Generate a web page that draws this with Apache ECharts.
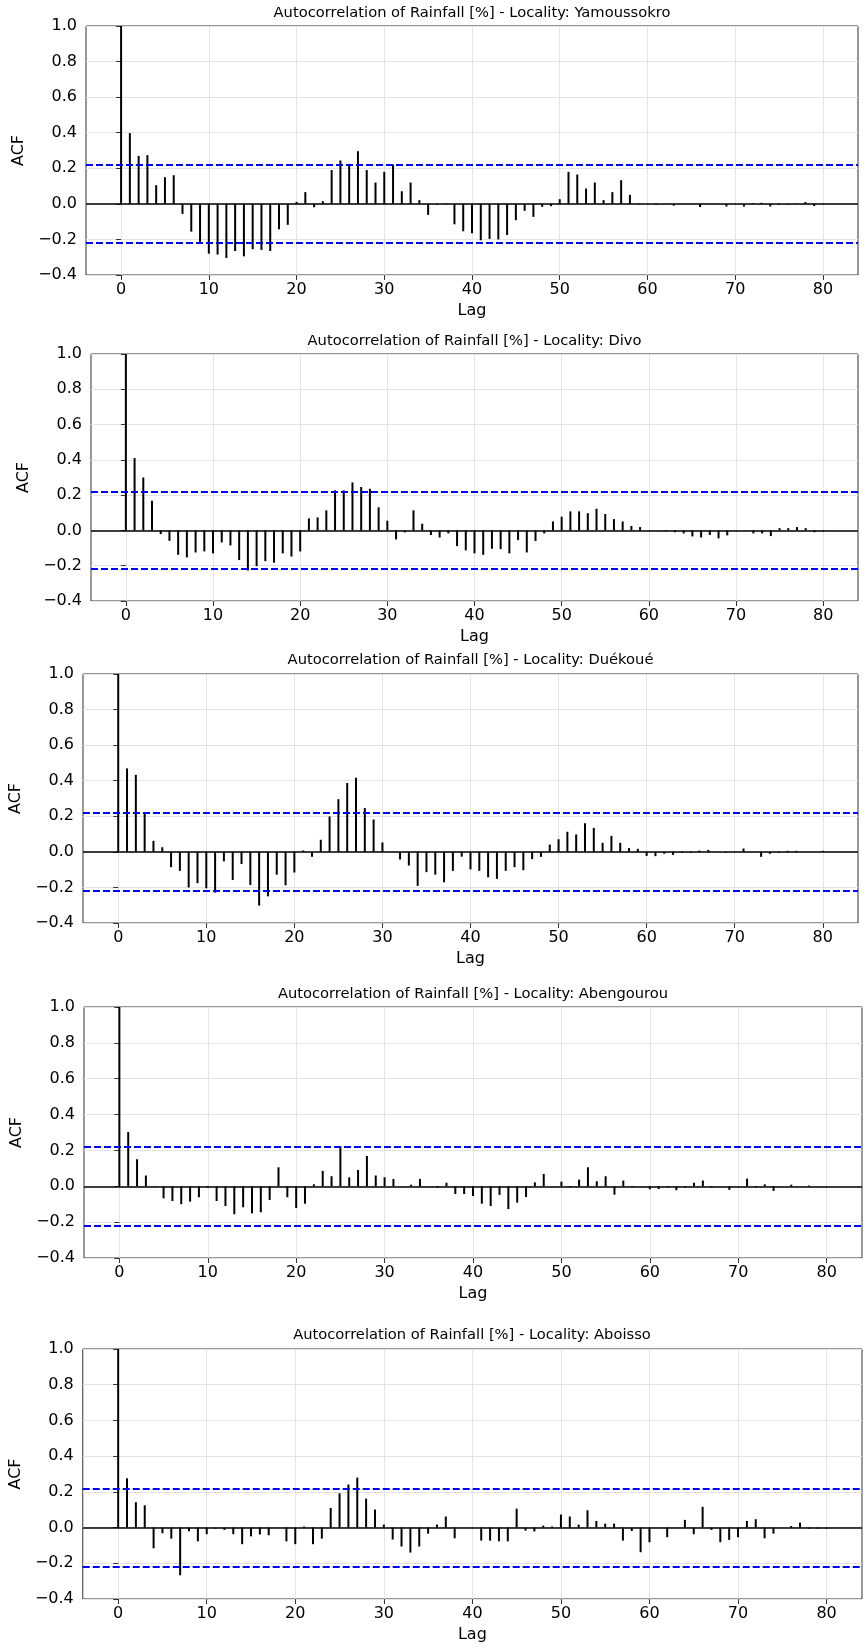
<!DOCTYPE html>
<html>
<head>
<meta charset="utf-8">
<script src="https://cdn.jsdelivr.net/npm/echarts@6/dist/echarts.min.js"></script>
<style>
html, body { margin: 0; padding: 0; background: #fff; }
#main { width: 863px; height: 1650px; }
</style>
</head>
<body>
<div id="main"></div>
<script>
// lags 0..80 and the tick values shown on the axes
var lags = [0,1,2,3,4,5,6,7,8,9,10,11,12,13,14,15,16,17,18,19,20,21,22,23,24,25,26,27,28,29,30,
    31,32,33,34,35,36,37,38,39,40,41,42,43,44,45,46,47,48,49,50,51,52,53,54,55,56,57,58,59,60,
    61,62,63,64,65,66,67,68,69,70,71,72,73,74,75,76,77,78,79,80];
var lagTicks = [0, 10, 20, 30, 40, 50, 60, 70, 80];
var confBand = 0.219;

var localities = ['Yamoussokro', 'Divo', 'Duékoué', 'Abengourou', 'Aboisso'];

var acfYamoussokro = [1.0,0.398,0.27,0.274,0.105,0.15,0.161,-0.056,-0.156,-0.214,
    -0.28,-0.285,-0.304,-0.265,-0.295,-0.255,-0.259,-0.265,-0.143,-0.118,
    0.011,0.066,-0.019,0.015,0.19,0.244,0.225,0.296,0.19,0.12,
    0.18,0.221,0.071,0.12,0.021,-0.062,-0.004,0.003,-0.115,-0.154,
    -0.165,-0.205,-0.197,-0.2,-0.175,-0.092,-0.039,-0.073,-0.017,-0.013,
    0.026,0.18,0.165,0.086,0.12,0.021,0.066,0.133,0.051,0.002,
    0.001,-0.005,0.002,-0.01,0.002,-0.002,-0.018,0.002,-0.002,-0.015,
    0.002,-0.015,0.004,0.006,-0.015,-0.005,-0.005,0.002,0.01,-0.012,0.001];

var acfDivo = [1.0,0.41,0.30,0.168,-0.021,-0.059,-0.138,-0.153,-0.125,-0.119,
    -0.13,-0.068,-0.085,-0.168,-0.227,-0.202,-0.174,-0.183,-0.13,-0.148,
    -0.119,0.068,0.074,0.114,0.227,0.227,0.272,0.246,0.236,0.131,
    0.055,-0.051,-0.011,0.114,0.038,-0.026,-0.04,-0.017,-0.089,-0.113,
    -0.13,-0.138,-0.104,-0.106,-0.13,-0.055,-0.125,-0.06,-0.017,0.051,
    0.078,0.108,0.108,0.098,0.123,0.093,0.064,0.051,0.025,0.019,
    0.002,0.001,-0.005,-0.01,-0.017,-0.034,-0.04,-0.026,-0.045,-0.028,
    0.001,-0.002,-0.017,-0.017,-0.032,0.013,0.013,0.019,0.013,-0.01,-0.005];

var acfDuekoue = [1.0,0.469,0.433,0.218,0.062,0.026,-0.086,-0.107,-0.2,-0.176,
    -0.205,-0.229,-0.053,-0.158,-0.068,-0.186,-0.302,-0.25,-0.128,-0.188,
    -0.116,0.008,-0.028,0.068,0.199,0.296,0.387,0.417,0.246,0.182,
    0.053,0.001,-0.043,-0.077,-0.191,-0.114,-0.128,-0.171,-0.107,-0.027,
    -0.098,-0.107,-0.143,-0.152,-0.107,-0.086,-0.103,-0.041,-0.028,0.041,
    0.071,0.113,0.098,0.161,0.135,0.051,0.09,0.051,0.021,0.017,
    -0.023,-0.024,-0.011,-0.017,-0.006,-0.005,0.007,0.011,0.001,-0.005,
    0.001,0.019,0.001,-0.028,-0.011,-0.005,0.006,0.006,0.001,0.001,0.006];

var acfAbengourou = [1.0,0.303,0.151,0.06,0.002,-0.067,-0.082,-0.1,-0.086,-0.061,
    -0.007,-0.082,-0.11,-0.156,-0.117,-0.151,-0.145,-0.076,0.106,-0.061,
    -0.121,-0.097,0.011,0.086,0.056,0.222,0.05,0.091,0.169,0.06,
    0.05,0.041,0.001,0.009,0.041,0.001,-0.007,0.02,-0.043,-0.043,
    -0.054,-0.097,-0.11,-0.048,-0.127,-0.091,-0.06,0.022,0.069,0.001,
    0.026,-0.006,0.037,0.106,0.028,0.056,-0.047,0.032,-0.004,0.001,
    -0.017,-0.015,-0.006,-0.022,-0.006,0.02,0.032,-0.006,0.001,-0.02,
    0.001,0.043,-0.006,0.011,-0.026,0.001,0.009,0.001,0.004,0.001,0.001];

var acfAboisso = [1.0,0.276,0.142,0.125,-0.116,-0.032,-0.062,-0.267,-0.021,-0.077,
    -0.037,-0.006,-0.013,-0.037,-0.093,-0.049,-0.039,-0.043,0.001,-0.077,
    -0.093,0.006,-0.093,-0.062,0.11,0.192,0.241,0.28,0.162,0.101,
    0.017,-0.067,-0.106,-0.14,-0.106,-0.034,0.017,0.062,-0.06,0.001,
    0.001,-0.073,-0.073,-0.077,-0.077,0.106,-0.017,-0.022,0.011,0.006,
    0.073,0.062,0.017,0.097,0.037,0.022,0.022,-0.073,-0.019,-0.138,
    -0.082,0.001,-0.054,0.001,0.043,-0.037,0.116,-0.013,-0.082,-0.069,
    -0.054,0.037,0.047,-0.06,-0.034,0.001,0.009,0.028,-0.006,-0.006,-0.006];

var acfSeries = [acfYamoussokro, acfDivo, acfDuekoue, acfAbengourou, acfAboisso];

// panel boxes (px)
var panels = [
    { left: 86, top: 26,   width: 772, height: 249, titleY: 13,   nameGap: 58 },
    { left: 91, top: 354,  width: 767, height: 247, titleY: 341,  nameGap: 55 },
    { left: 83, top: 674,  width: 775, height: 249, titleY: 660,  nameGap: 58 },
    { left: 84, top: 1007, width: 778, height: 251, titleY: 994,  nameGap: 58 },
    { left: 82, top: 1349, width: 780, height: 250, titleY: 1335, nameGap: 58 }
];

var font = 'DejaVu Sans';

function fmtY(v) {
    if (Math.abs(v) < 1e-9) return '0.0';
    return (v < 0 ? '\u2212' : '') + Math.abs(v).toFixed(1);
}

var grids = [], xAxes = [], yAxes = [], series = [], graphics = [];

panels.forEach(function (p, i) {
    grids.push({
        left: p.left, top: p.top, width: p.width, height: p.height,
        show: true, borderColor: '#333', borderWidth: 1, backgroundColor: 'transparent'
    });
    xAxes.push({
        type: 'value', gridIndex: i, min: -4, max: 84, splitNumber: 9,
        name: 'Lag', nameLocation: 'middle', nameGap: 28,
        nameTextStyle: { fontFamily: font, fontSize: 16, color: '#000' },
        axisLine: { show: false, onZero: false },
        axisTick: { show: true, length: 5, inside: false, customValues: lagTicks, lineStyle: { color: '#333' } },
        axisLabel: { customValues: lagTicks, margin: 7, fontFamily: font, fontSize: 16, color: '#000' },
        splitLine: { show: true, lineStyle: { color: '#e3e3e3', width: 1 } }
    });
    yAxes.push({
        type: 'value', gridIndex: i, min: -0.4, max: 1.0, interval: 0.2,
        name: 'ACF', nameLocation: 'middle', nameGap: p.nameGap, nameRotate: 90,
        nameTextStyle: { fontFamily: font, fontSize: 16, color: '#000' },
        axisLine: { show: false },
        axisTick: { show: true, length: 5, inside: false, lineStyle: { color: '#333' } },
        axisLabel: { margin: 9, fontFamily: font, fontSize: 16, color: '#000', formatter: fmtY },
        splitLine: { show: true, lineStyle: { color: '#e3e3e3', width: 1 } }
    });
    series.push({
        type: 'bar', xAxisIndex: i, yAxisIndex: i,
        barWidth: 2,
        itemStyle: { color: '#000' },
        data: acfSeries[i].map(function (v, k) { return [lags[k], v]; }),
        markLine: {
            silent: true, symbol: 'none', animation: false,
            label: { show: false },
            data: [
                { yAxis: 0, lineStyle: { color: '#000', type: 'solid', width: 1.5 } },
                { yAxis: confBand, lineStyle: { color: '#0000ff', type: [7, 3], width: 2 } },
                { yAxis: -confBand, lineStyle: { color: '#0000ff', type: [7, 3], width: 2 } }
            ]
        }
    });
    graphics.push({
        type: 'text',
        x: p.left + p.width / 2,
        y: p.titleY,
        style: {
            text: 'Autocorrelation of Rainfall [%] - Locality: ' + localities[i],
            textAlign: 'center', textVerticalAlign: 'middle',
            fontFamily: font, fontSize: 14.7, fill: '#000'
        }
    });
});

var myChart = echarts.init(document.getElementById('main'));
var option = {
    animation: false,
    backgroundColor: '#fff',
    grid: grids,
    xAxis: xAxes,
    yAxis: yAxes,
    series: series,
    graphic: graphics
};
myChart.setOption(option);
</script>
</body>
</html>
